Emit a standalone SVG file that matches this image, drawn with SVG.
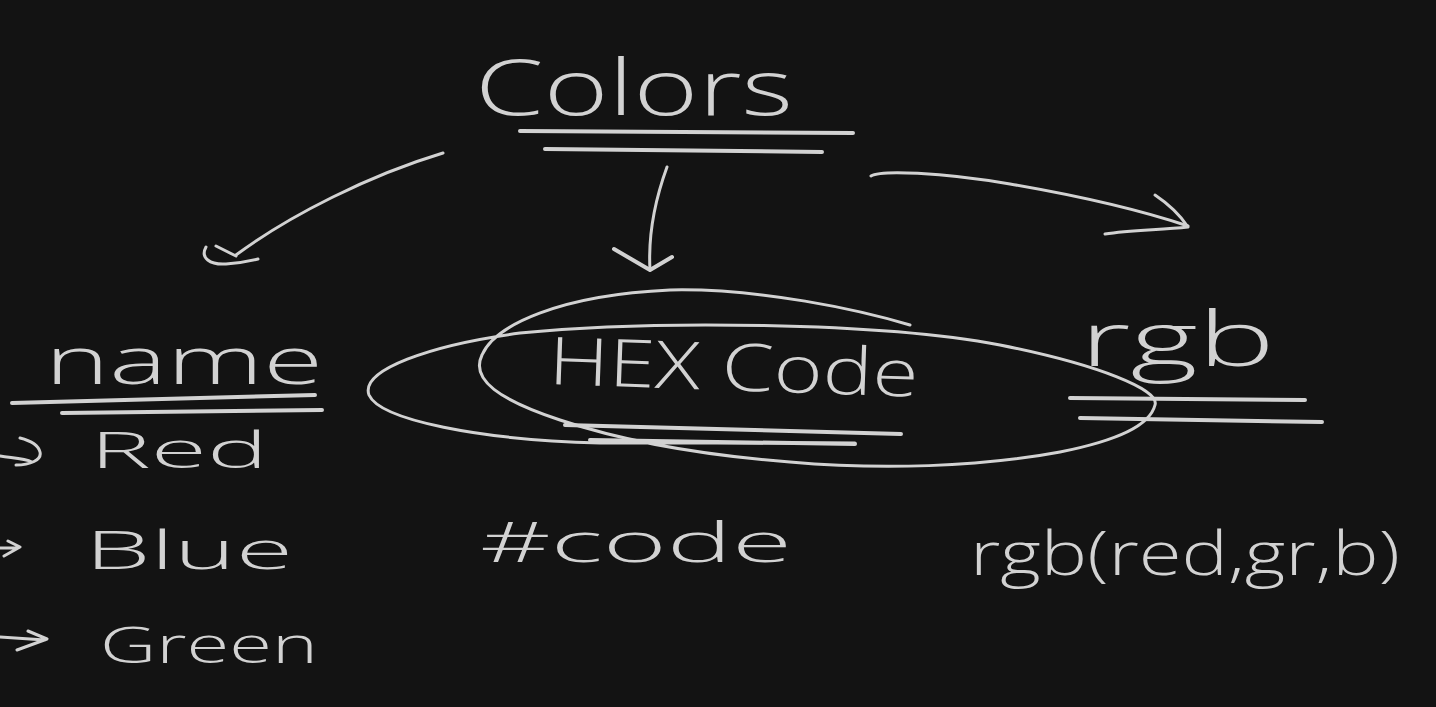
<svg xmlns="http://www.w3.org/2000/svg" width="1436" height="707" viewBox="0 0 1436 707">
  <defs>
    <style>
      .ink { fill: none; stroke: #d2d2d2; stroke-width: 3; stroke-linecap: round; stroke-linejoin: round; }
      .thick { stroke-width: 4; }
      .t { fill: #d2d2d2; font-family: "Open Sans", "Liberation Sans", sans-serif; font-weight: 300; }
    </style>
  </defs>
  <rect width="1436" height="707" fill="#131313"/>

  <g id="connectors">
    <!-- Colors -> name -->
    <path class="ink" d="M 443,153 C 370,175 290,215 236,255"/>
    <path class="ink" d="M 216,246 L 236,256 M 206,247 C 200,258 210,265 226,264 C 240,263 250,261 258,259"/>
    <!-- Colors -> HEX Code -->
    <path class="ink" d="M 667,167 C 655,200 648,235 650,270"/>
    <path class="ink thick" d="M 614,249 L 650,270 L 672,257"/>
    <!-- Colors -> rgb -->
    <path class="ink" d="M 871,176 C 880,170 940,172 1010,184 C 1080,196 1140,210 1188,226"/>
    <path class="ink" d="M 1155,195 C 1170,205 1180,215 1188,227 C 1160,230 1130,230 1105,234"/>
    <!-- list arrows -->
    <path class="ink" d="M 0,456 C 12,458 24,458 32,462 M 16,465 C 30,465 42,460 40,452 C 38,444 28,440 20,438"/>
    <path class="ink" d="M 0,548 L 18,548 M 8,541 L 20,547 L 4,556"/>
    <path class="ink" d="M 0,637 L 45,640 M 28,631 L 47,639 L 17,650"/>
  </g>

  <g id="node-colors">
    <text class="t" x="475" y="115" font-size="78" textLength="318" lengthAdjust="spacingAndGlyphs">Colors</text>
    <path class="ink thick" d="M 520,131 L 853,133"/>
    <path class="ink thick" d="M 545,149 L 822,152"/>
  </g>

  <g id="node-name">
    <text class="t" x="45" y="384" font-size="66" textLength="278" lengthAdjust="spacingAndGlyphs">name</text>
    <path class="ink thick" d="M 12,403 C 120,400 220,397 315,395"/>
    <path class="ink thick" d="M 62,413 L 322,410"/>
  </g>

  <g id="node-red">
    <text class="t" x="90" y="468" font-size="50" textLength="178" lengthAdjust="spacingAndGlyphs">Red</text>
  </g>
  <g id="node-blue">
    <text class="t" x="85" y="569" font-size="54" textLength="208" lengthAdjust="spacingAndGlyphs">Blue</text>
  </g>
  <g id="node-green">
    <text class="t" x="100" y="663" font-size="50" textLength="218" lengthAdjust="spacingAndGlyphs">Green</text>
  </g>

  <g id="node-hex">
    <path class="ink" d="M 855,443 L 600,443 C 480,440 380,420 369,395 C 360,370 430,345 520,333 C 650,320 880,322 1000,345 C 1100,365 1160,390 1155,405 C 1150,425 1120,440 1060,452 C 980,467 880,470 790,462 C 700,455 620,440 560,420 C 500,400 470,380 482,355 C 495,325 560,295 670,290 C 760,288 860,310 910,325"/>
    <text class="t" x="548" y="384" font-size="66" textLength="370" lengthAdjust="spacingAndGlyphs" transform="rotate(2 548 384)">HEX Code</text>
    <path class="ink thick" d="M 565,425 L 901,434"/>
    <path class="ink thick" d="M 590,440 L 855,444"/>
  </g>

  <g id="node-hexcode">
    <text class="t" x="480" y="562" font-size="56" textLength="312" lengthAdjust="spacingAndGlyphs">#code</text>
  </g>

  <g id="node-rgb">
    <text class="t" x="1080" y="366" font-size="76" textLength="195" lengthAdjust="spacingAndGlyphs">rgb</text>
    <path class="ink thick" d="M 1070,398 L 1305,400"/>
    <path class="ink thick" d="M 1080,418 L 1322,422"/>
  </g>

  <g id="node-rgbfn">
    <text class="t" x="970" y="575" font-size="60" textLength="430" lengthAdjust="spacingAndGlyphs">rgb(red,gr,b)</text>
  </g>
</svg>
